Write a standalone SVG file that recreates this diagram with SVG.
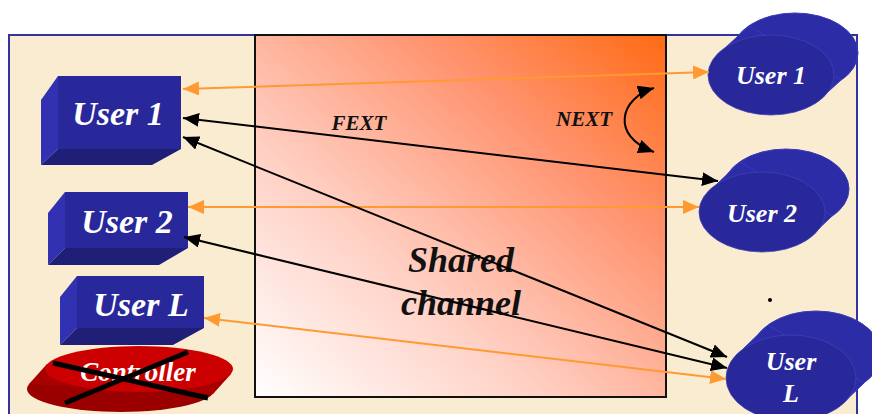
<svg xmlns="http://www.w3.org/2000/svg" width="872" height="414" viewBox="0 0 872 414">
  <defs>
    <linearGradient id="chanGrad" x1="0" y1="1" x2="1" y2="0">
      <stop offset="0" stop-color="#ffffff"/>
      <stop offset="0.35" stop-color="#ffd0c4"/>
      <stop offset="0.7" stop-color="#ff9470"/>
      <stop offset="1" stop-color="#ff6a14"/>
    </linearGradient>
    <marker id="arrBlack" viewBox="0 0 16 14" refX="16" refY="7" markerWidth="16" markerHeight="14" markerUnits="userSpaceOnUse" orient="auto-start-reverse">
      <path d="M0,0 L16,7 L0,14 z" fill="#000"/>
    </marker>
    <marker id="arrOrange" viewBox="0 0 16 14" refX="16" refY="7" markerWidth="16" markerHeight="14" markerUnits="userSpaceOnUse" orient="auto-start-reverse">
      <path d="M0,0 L16,7 L0,14 z" fill="#ff9a33"/>
    </marker>
  </defs>
  <style>
    .lbl { font-family: "Liberation Serif", "Times New Roman", serif; font-weight: bold; font-style: italic; }
    .white { fill: #ffffff; }
    .front { fill: #28289a; }
    .side { fill: #3131b2; }
    .under { fill: #1f1f78; }
    .back { fill: #2c2ca6; stroke: #3a3ab8; stroke-width: 1; }
    .face { fill: #28289a; stroke: #4040b8; stroke-width: 0.8; }
    .orange { stroke: #ff9a33; stroke-width: 2; fill: none; marker-start: url(#arrOrange); marker-end: url(#arrOrange); }
    .black { stroke: #000; stroke-width: 2; fill: none; marker-start: url(#arrBlack); marker-end: url(#arrBlack); }
  </style>

  <!-- page and frame -->
  <rect x="0" y="0" width="872" height="414" fill="#ffffff"/>
  <rect x="9" y="35" width="848" height="390" fill="#f9ecd1" stroke="#3333a0" stroke-width="2"/>

  <!-- shared channel -->
  <g id="channel">
    <rect x="255" y="35" width="411" height="362" fill="url(#chanGrad)" stroke="#111" stroke-width="2"/>
    <text class="lbl" x="461" y="272" font-size="36" text-anchor="middle" fill="#111">Shared</text>
    <text class="lbl" x="461" y="315" font-size="36" text-anchor="middle" fill="#111">channel</text>
  </g>

  <!-- left transmitters -->
  <g id="left-user1">
    <polygon class="side" points="58,76 41,100 41,165 58,149"/>
    <polygon class="under" points="58,149 181,149 152,165 41,165"/>
    <rect class="front" x="58" y="76" width="123" height="73"/>
    <text class="lbl white" x="118" y="125" font-size="34" text-anchor="middle">User 1</text>
  </g>
  <g id="left-user2">
    <polygon class="side" points="65,192 48,213 48,265 65,248"/>
    <polygon class="under" points="65,248 188,248 159,265 48,265"/>
    <rect class="front" x="65" y="192" width="123" height="56"/>
    <text class="lbl white" x="127" y="233" font-size="34" text-anchor="middle">User 2</text>
  </g>
  <g id="left-userL">
    <polygon class="side" points="77,276 60,297 60,345 77,328"/>
    <polygon class="under" points="77,328 204,328 173,345 60,345"/>
    <rect class="front" x="77" y="276" width="127" height="52"/>
    <text class="lbl white" x="141" y="316" font-size="34" text-anchor="middle">User L</text>
  </g>

  <!-- controller disc, struck out -->
  <g id="controller">
    <ellipse cx="121" cy="389" rx="94" ry="23" fill="#9a0000"/>
    <polygon points="231,374 213,394 29,384 47,364" fill="#a80000"/>
    <ellipse cx="139" cy="369" rx="94" ry="23" fill="#cc0000"/>
    <text class="lbl white" x="138" y="381" font-size="27" text-anchor="middle">Controller</text>
    <line x1="53" y1="363" x2="208" y2="398" stroke="#000" stroke-width="5"/>
    <line x1="188" y1="352" x2="65" y2="403" stroke="#000" stroke-width="5"/>
  </g>

  <!-- right receivers -->
  <g id="right-user1">
    <ellipse class="back" cx="795" cy="53" rx="63" ry="40"/>
    <polygon class="back" stroke="none" points="817,102 841,80 749,26 725,48"/>
    <ellipse class="face" cx="771" cy="75" rx="63" ry="40"/>
    <text class="lbl white" x="771" y="84" font-size="26" text-anchor="middle">User 1</text>
  </g>
  <g id="right-user2">
    <ellipse class="back" cx="786" cy="189" rx="63" ry="40"/>
    <polygon class="back" stroke="none" points="808,239 832,216 740,162 716,185"/>
    <ellipse class="face" cx="762" cy="212" rx="63" ry="40"/>
    <text class="lbl white" x="762" y="222" font-size="26" text-anchor="middle">User 2</text>
  </g>
  <g id="right-userL">
    <ellipse class="back" cx="816" cy="354" rx="65" ry="43"/>
    <polygon class="back" stroke="none" points="839,407 864,383 768,325 743,349"/>
    <ellipse class="face" cx="791" cy="378" rx="65" ry="43"/>
    <text class="lbl white" x="791" y="370" font-size="26" text-anchor="middle">User</text>
    <text class="lbl white" x="791" y="402" font-size="26" text-anchor="middle">L</text>
  </g>
  <circle cx="770" cy="300" r="2" fill="#000"/>

  <!-- connectors -->
  <g id="connectors">
    <line class="orange" x1="183" y1="89" x2="709" y2="72"/>
    <line class="orange" x1="188" y1="207" x2="699" y2="207"/>
    <line class="orange" x1="204" y1="318" x2="726" y2="379"/>
    <line class="black" x1="183" y1="118" x2="718" y2="181"/>
    <line class="black" x1="183" y1="137" x2="727" y2="357"/>
    <line class="black" x1="184" y1="237" x2="727" y2="368"/>
    <path class="black" d="M654,88 C620,98 610,136 654,152"/>
    <text class="lbl" x="359" y="130" font-size="21" text-anchor="middle" fill="#111">FEXT</text>
    <text class="lbl" x="584" y="126" font-size="21" text-anchor="middle" fill="#111">NEXT</text>
  </g>
</svg>
